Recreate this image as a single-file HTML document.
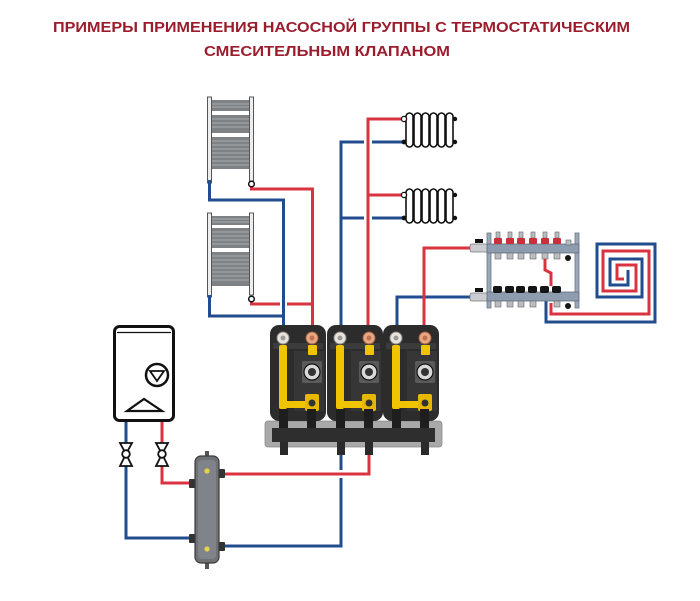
<!DOCTYPE html>
<html><head><meta charset="utf-8"><style>
html,body{margin:0;padding:0;background:#fff;}
svg{display:block;}
</style></head><body>
<svg width="700" height="601" viewBox="0 0 700 601" xmlns="http://www.w3.org/2000/svg">
<rect width="700" height="601" fill="#fff"/>
<!-- Title -->
<g font-family="Liberation Sans, sans-serif" font-weight="bold" fill="#9b1d2d" font-size="14.5">
<text x="53" y="32" textLength="577" lengthAdjust="spacingAndGlyphs">ПРИМЕРЫ ПРИМЕНЕНИЯ НАСОСНОЙ ГРУППЫ С ТЕРМОСТАТИЧЕСКИМ</text>
<text x="204" y="56" textLength="246" lengthAdjust="spacingAndGlyphs">СМЕСИТЕЛЬНЫМ КЛАПАНОМ</text>
</g>

<!-- Towel rails -->
<g>
  <rect x="212" y="100" width="37" height="69" fill="#7f8285"/>
  <rect x="212" y="111" width="37" height="4" fill="#fff"/>
  <rect x="212" y="133" width="37" height="4" fill="#fff"/>
  <g stroke="#b8babc" stroke-width="0.8">
    <line x1="212" y1="104" x2="249" y2="104"/><line x1="212" y1="107" x2="249" y2="107"/>
    <line x1="212" y1="119" x2="249" y2="119"/><line x1="212" y1="123" x2="249" y2="123"/>
    <line x1="212" y1="127" x2="249" y2="127"/><line x1="212" y1="141" x2="249" y2="141"/>
    <line x1="212" y1="145" x2="249" y2="145"/><line x1="212" y1="149" x2="249" y2="149"/>
    <line x1="212" y1="153" x2="249" y2="153"/><line x1="212" y1="157" x2="249" y2="157"/>
    <line x1="212" y1="161" x2="249" y2="161"/><line x1="212" y1="165" x2="249" y2="165"/>
  </g>
  <rect x="207.5" y="97" width="4" height="86" fill="#eee" stroke="#555" stroke-width="1"/>
  <rect x="249.5" y="97" width="4" height="84" fill="#eee" stroke="#555" stroke-width="1"/>

  <rect x="212" y="216" width="37" height="70" fill="#7f8285"/>
  <rect x="212" y="225" width="37" height="3" fill="#fff"/>
  <rect x="212" y="248" width="37" height="4" fill="#fff"/>
  <g stroke="#b8babc" stroke-width="0.8">
    <line x1="212" y1="219" x2="249" y2="219"/><line x1="212" y1="222" x2="249" y2="222"/>
    <line x1="212" y1="232" x2="249" y2="232"/><line x1="212" y1="236" x2="249" y2="236"/>
    <line x1="212" y1="240" x2="249" y2="240"/><line x1="212" y1="244" x2="249" y2="244"/>
    <line x1="212" y1="256" x2="249" y2="256"/><line x1="212" y1="260" x2="249" y2="260"/>
    <line x1="212" y1="264" x2="249" y2="264"/><line x1="212" y1="268" x2="249" y2="268"/>
    <line x1="212" y1="272" x2="249" y2="272"/><line x1="212" y1="276" x2="249" y2="276"/>
    <line x1="212" y1="280" x2="249" y2="280"/>
  </g>
  <rect x="207.5" y="213" width="4" height="84" fill="#eee" stroke="#555" stroke-width="1"/>
  <rect x="249.5" y="213" width="4" height="82" fill="#eee" stroke="#555" stroke-width="1"/>
</g>

<!-- Pipes -->
<g fill="none" stroke-width="3" stroke-linejoin="miter">
  <!-- left towel rails -->
  <path d="M251.5 186 V189 H312.5 V330" stroke="#d8333f"/>
  <path d="M251.5 301 V304 H312.5" stroke="#d8333f"/>
  <path d="M283.5 298 V312" stroke="#fff" stroke-width="7"/>
  <path d="M209.5 180 V200 H283.5 V330" stroke="#214d8f"/>
  <path d="M209.5 295 V316 H283.5" stroke="#214d8f"/>

  <!-- middle radiators -->
  <path d="M341 330 V142 H404" stroke="#214d8f"/>
  <path d="M341 218 H404" stroke="#214d8f"/>
  <path d="M368 330 V119 H404" stroke="#fff" stroke-width="8"/>
  <path d="M368 330 V119 H404" stroke="#d8333f"/>
  <path d="M368 195 H404" stroke="#d8333f"/>

  <!-- right to manifold -->
  <path d="M397 330 V297 H472" stroke="#214d8f"/>
  <path d="M424 300 V330" stroke="#fff" stroke-width="8"/>
  <path d="M424 330 V248 H472" stroke="#d8333f"/>

  <!-- floor heating -->
  <path d="M546 303 V322 H655 V244 H597 V297 H642 V259 H610 V285 H628 V270" stroke="#214d8f"/>
  <path d="M551 303 V314 H649 V251 H603 V291 H636 V265 H617 V279 H624" stroke="#d8333f"/>
  <path d="M546 300 V318" stroke="#214d8f"/>

  <!-- bottom: separator -->
  <path d="M341 455 V546 H222" stroke="#214d8f"/>
  <path d="M230 474 H369" stroke="#fff" stroke-width="8"/>
  <path d="M369 455 V474 H222" stroke="#d8333f"/>
  <path d="M126 421 V538 H192" stroke="#214d8f"/>
  <path d="M162 421 V483 H192" stroke="#d8333f"/>
</g>

<!-- Radiators -->
<g id="rad1">
  <g stroke="#111" stroke-width="1.6" fill="#fff">
    <rect x="406" y="113" width="7" height="34" rx="3.5"/>
    <rect x="414" y="113" width="7" height="34" rx="3.5"/>
    <rect x="422" y="113" width="7" height="34" rx="3.5"/>
    <rect x="430" y="113" width="7" height="34" rx="3.5"/>
    <rect x="438" y="113" width="7" height="34" rx="3.5"/>
    <rect x="446" y="113" width="7" height="34" rx="3.5"/>
  </g>
  <circle cx="404" cy="119" r="2.6" fill="#fff" stroke="#111" stroke-width="1.3"/>
  <circle cx="404" cy="142" r="2.4" fill="#111"/>
  <circle cx="455" cy="119" r="2.2" fill="#111"/>
  <circle cx="455" cy="142" r="2.2" fill="#111"/>
</g>
<g transform="translate(0,76)">
  <g stroke="#111" stroke-width="1.6" fill="#fff">
    <rect x="406" y="113" width="7" height="34" rx="3.5"/>
    <rect x="414" y="113" width="7" height="34" rx="3.5"/>
    <rect x="422" y="113" width="7" height="34" rx="3.5"/>
    <rect x="430" y="113" width="7" height="34" rx="3.5"/>
    <rect x="438" y="113" width="7" height="34" rx="3.5"/>
    <rect x="446" y="113" width="7" height="34" rx="3.5"/>
  </g>
  <circle cx="404" cy="119" r="2.6" fill="#fff" stroke="#111" stroke-width="1.3"/>
  <circle cx="404" cy="142" r="2.4" fill="#111"/>
  <circle cx="455" cy="119" r="2.2" fill="#111"/>
  <circle cx="455" cy="142" r="2.2" fill="#111"/>
</g>
<circle cx="251.5" cy="184" r="2.8" fill="#fff" stroke="#111" stroke-width="1.5"/>
<circle cx="251.5" cy="299" r="2.8" fill="#fff" stroke="#111" stroke-width="1.5"/>

<!-- Manifold -->
<g>
  <rect x="487" y="233" width="4" height="75" fill="#9aa8b8" stroke="#6a7888" stroke-width="0.8"/>
  <rect x="575" y="233" width="4" height="75" fill="#9aa8b8" stroke="#6a7888" stroke-width="0.8"/>
  <!-- valves -->
  <rect x="470" y="244" width="18" height="8" rx="2" fill="#c9ccd0" stroke="#777" stroke-width="0.8"/>
  <rect x="475" y="239" width="8" height="4" fill="#111"/>
  <rect x="470" y="293" width="18" height="8" rx="2" fill="#c9ccd0" stroke="#777" stroke-width="0.8"/>
  <rect x="475" y="288" width="8" height="4" fill="#111"/>
  <!-- bars -->
  <rect x="487" y="244" width="92" height="9" fill="#8d9cae" stroke="#5f6d7d" stroke-width="0.8"/>
  <rect x="487" y="292" width="92" height="9" fill="#8d9cae" stroke="#5f6d7d" stroke-width="0.8"/>
  <g fill="#b9bcc0" stroke="#666" stroke-width="0.6">
    <rect x="496" y="232" width="4" height="6"/><rect x="508" y="232" width="4" height="6"/>
    <rect x="519" y="232" width="4" height="6"/><rect x="531" y="232" width="4" height="6"/>
    <rect x="543" y="232" width="4" height="6"/><rect x="555" y="232" width="4" height="6"/>
    <rect x="495" y="253" width="6" height="6"/><rect x="507" y="253" width="6" height="6"/>
    <rect x="518" y="253" width="6" height="6"/><rect x="530" y="253" width="6" height="6"/>
    <rect x="542" y="253" width="6" height="6"/><rect x="554" y="253" width="6" height="6"/>
    <rect x="495" y="301" width="6" height="6"/><rect x="507" y="301" width="6" height="6"/>
    <rect x="518" y="301" width="6" height="6"/><rect x="530" y="301" width="6" height="6"/>
    <rect x="554" y="301" width="6" height="6"/>
    <rect x="566" y="240" width="5" height="5"/>
  </g>
  <g fill="#c8303a">
    <rect x="494" y="238" width="8" height="6" rx="1"/><rect x="506" y="238" width="8" height="6" rx="1"/>
    <rect x="517" y="238" width="8" height="6" rx="1"/><rect x="529" y="238" width="8" height="6" rx="1"/>
    <rect x="541" y="238" width="8" height="6" rx="1"/><rect x="553" y="238" width="8" height="6" rx="1"/>
  </g>
  <g fill="#151515">
    <rect x="493" y="286" width="9" height="7" rx="2"/><rect x="505" y="286" width="9" height="7" rx="2"/>
    <rect x="516" y="286" width="9" height="7" rx="2"/><rect x="528" y="286" width="9" height="7" rx="2"/>
    <rect x="540" y="286" width="9" height="7" rx="2"/><rect x="552" y="286" width="9" height="7" rx="2"/>
    <circle cx="568" cy="258" r="3"/><circle cx="568" cy="306" r="3"/>
  </g>
  <path d="M545 259 V270 L551 273 V286" fill="none" stroke="#d8333f" stroke-width="3"/>
</g>

<!-- Pump groups -->
<defs>
<g id="pg">
  <rect x="0" y="0" width="56" height="96" rx="9" fill="#2c2c2c"/>
  <rect x="3" y="18" width="50" height="6" fill="#3b3b3b"/>
  <rect x="24" y="26" width="30" height="60" fill="#363636"/>
  <circle cx="13" cy="13" r="6" fill="#e8e4dc" stroke="#8a8a8a" stroke-width="1"/>
  <circle cx="13" cy="13" r="2.5" fill="#999"/>
  <circle cx="42" cy="13" r="6" fill="#e8a884" stroke="#a06040" stroke-width="1"/>
  <circle cx="42" cy="13" r="2.5" fill="#c07050"/>
  <rect x="9" y="20" width="8" height="64" rx="2" fill="#f0c400"/>
  <rect x="38" y="20" width="9" height="10" rx="1" fill="#f0c400"/>
  <rect x="32" y="36" width="20" height="22" rx="2" fill="#5a5a5a"/>
  <circle cx="42" cy="47" r="8" fill="#d9d9d9" stroke="#111" stroke-width="1.2"/>
  <circle cx="42" cy="47" r="4" fill="#333"/>
  <rect x="17" y="76" width="24" height="7" fill="#f0c400"/>
  <rect x="35" y="69" width="14" height="17" rx="2" fill="#e8b800"/>
  <circle cx="42" cy="78" r="3.5" fill="#333"/>
  <rect x="9" y="84" width="9" height="20" fill="#1e1e1e"/>
  <rect x="37" y="84" width="9" height="20" fill="#1e1e1e"/>
</g>
</defs>
<rect x="265" y="421" width="177" height="26" rx="3" fill="#a9a9a9" stroke="#888" stroke-width="0.8"/>
<use href="#pg" x="270" y="325"/>
<use href="#pg" x="327" y="325"/>
<use href="#pg" x="383" y="325"/>
<rect x="272" y="428" width="163" height="14" fill="#2e2e2e"/>
<g fill="#2a2a2a">
  <rect x="280" y="442" width="8" height="13"/>
  <rect x="337" y="442" width="8" height="13"/>
  <rect x="365" y="442" width="8" height="13"/>
  <rect x="421" y="442" width="8" height="13"/>
</g>

<!-- Boiler -->
<g fill="none" stroke="#111">
  <rect x="114.5" y="326.5" width="59" height="94" rx="5" fill="#fff" stroke-width="3"/>
  <line x1="117" y1="332.5" x2="171" y2="332.5" stroke-width="1.2"/>
  <circle cx="157" cy="375" r="11" stroke-width="2.5"/>
  <path d="M150 371 H164 L157 381 Z" stroke-width="1.8"/>
  <path d="M127 411 L144 399 L162 411 Z" stroke-width="2.2"/>
</g>
<!-- Valves -->
<g fill="#fff" stroke="#111" stroke-width="1.8">
  <path d="M120 443 H132 L126 454 Z M126 454 L120 466 H132 Z"/>
  <circle cx="126" cy="454" r="3.8"/>
  <path d="M156 443 H168 L162 454 Z M162 454 L156 466 H168 Z"/>
  <circle cx="162" cy="454" r="3.8"/>
</g>

<!-- Hydraulic separator -->
<g>
  <rect x="205" y="451" width="4" height="7" fill="#555"/>
  <rect x="205" y="562" width="4" height="7" fill="#555"/>
  <rect x="189" y="479" width="8" height="9" rx="1" fill="#333"/>
  <rect x="189" y="534" width="8" height="9" rx="1" fill="#333"/>
  <rect x="217" y="469" width="8" height="9" rx="1" fill="#333"/>
  <rect x="217" y="542" width="8" height="9" rx="1" fill="#333"/>
  <rect x="195" y="456" width="24" height="107" rx="6" fill="#6f7275" stroke="#3a3a3a" stroke-width="1.2"/>
  <rect x="198" y="460" width="18" height="99" rx="4" fill="#80848a"/>
  <circle cx="207" cy="471" r="2.6" fill="#e6d24a"/>
  <circle cx="207" cy="549" r="2.6" fill="#e6d24a"/>
</g>
</svg>
</body></html>
